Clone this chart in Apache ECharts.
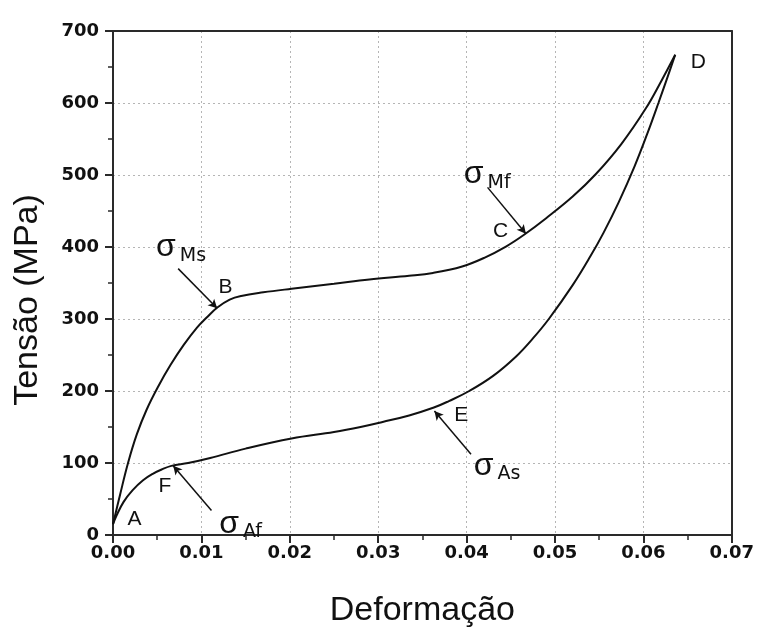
<!DOCTYPE html>
<html>
<head>
<meta charset="utf-8">
<script src="https://cdn.jsdelivr.net/npm/echarts@6/dist/echarts.min.js"></script>
<style>
html,body{margin:0;padding:0;background:#fff;}
#chart{width:757px;height:633px;}
</style>
</head>
<body>
<div id="chart"></div>
<script>
// Loading curve A -> B -> C -> D
const loadX = [0, 0.0008, 0.0017, 0.0027, 0.0038, 0.0051, 0.0065, 0.008, 0.0095, 0.0106, 0.0118, 0.0132, 0.0145, 0.017, 0.0202, 0.025, 0.029, 0.0335, 0.0362, 0.0395, 0.042, 0.0445, 0.0465, 0.049, 0.052, 0.0546, 0.0575, 0.0603, 0.062, 0.0636];
const loadY = [15, 56, 100, 140, 174, 206, 236, 264, 288, 302, 316, 327, 332, 337, 342, 349, 355, 360, 364, 373, 385, 401, 417, 440, 470, 501, 543, 593, 630, 667];
// Unloading curve D -> E -> F -> A
const unloadX = [0.0636, 0.0627, 0.0617, 0.0604, 0.059, 0.0572, 0.0555, 0.054, 0.052, 0.0493, 0.0475, 0.0456, 0.043, 0.0403, 0.038, 0.0363, 0.0335, 0.0305, 0.028, 0.025, 0.0202, 0.015, 0.011, 0.0085, 0.0066, 0.0055, 0.0045, 0.0034, 0.0022, 0.0012, 0.0004, 0];
const unloadY = [667, 635, 600, 556, 512, 462, 420, 387, 347, 300, 273, 248, 221, 200, 186, 177, 166, 157, 150, 143, 134, 120, 107, 100, 96, 91, 85, 76, 62, 46, 27, 15];

// Point letters
const pointNames = ['A', 'B', 'C', 'D', 'E', 'F'];
const pointX = [0.00248, 0.01279, 0.0439, 0.06628, 0.03946, 0.00593];
const pointY = [20.7, 343, 421, 656, 165.7, 67.7];

// Sigma labels (subscripts) and their anchors
const sigmaSubs = ['Ms', 'Mf', 'As', 'Af'];
const sigmaX = [0.00493, 0.03974, 0.04087, 0.01208];
const sigmaY = [400.4, 501.6, 96.6, 16.2];

// Arrows: from label to curve
const arrowFromX = [0.00737, 0.04237, 0.0405, 0.01114];
const arrowFromY = [370, 482.8, 112.2, 34.1];
const arrowToX = [0.01178, 0.04671, 0.03636, 0.00681];
const arrowToY = [314.8, 418.3, 172.2, 96.2];

const loading = loadX.map((x, i) => [x, loadY[i]]);
const unloading = unloadX.map((x, i) => [x, unloadY[i]]);
const pointData = pointNames.map((n, i) => ({ name: n, value: [pointX[i], pointY[i]] }));
const sigmaData = sigmaSubs.map((n, i) => ({ name: n, value: [sigmaX[i], sigmaY[i]] }));
const arrowData = arrowFromX.map((x, i) => [
  { coord: [x, arrowFromY[i]] },
  { coord: [arrowToX[i], arrowToY[i]] }
]);

const ink = '#111';
const frame = '#2a2a2a';
const axisCommon = {
  nameLocation: 'middle',
  nameTextStyle: { fontFamily: 'Liberation Sans', fontSize: 34, color: ink },
  axisLine: { show: true, onZero: false, lineStyle: { color: frame, width: 2 } },
  axisTick: { show: true, inside: false, length: 8, lineStyle: { color: frame, width: 2 } },
  minorTick: { show: true, splitNumber: 2, length: 5, lineStyle: { color: frame, width: 1.5 } },
  splitLine: { show: true, showMaxLine: false, lineStyle: { color: '#b5b5b5', type: [2, 3], width: 1 } },
  axisLabel: { fontFamily: 'DejaVu Sans', fontWeight: 'bold', fontSize: 18, color: ink }
};
const frameAxis = {
  type: 'value',
  axisLine: { show: true, onZero: false, lineStyle: { color: frame, width: 2 } },
  axisTick: { show: false }, axisLabel: { show: false }, splitLine: { show: false }
};

const chart = echarts.init(document.getElementById('chart'));
chart.setOption({
  animation: false,
  backgroundColor: '#fff',
  grid: { left: 113, right: 24, top: 31, bottom: 95 },
  xAxis: [
    Object.assign({}, axisCommon, {
      type: 'value', min: 0, max: 0.07, interval: 0.01,
      name: 'Deformação', nameGap: 59,
      axisLabel: Object.assign({}, axisCommon.axisLabel, { margin: 9, formatter: v => v.toFixed(2) })
    }),
    Object.assign({}, frameAxis, { position: 'top', min: 0, max: 0.07 })
  ],
  yAxis: [
    Object.assign({}, axisCommon, {
      type: 'value', min: 0, max: 700, interval: 100,
      name: 'Tensão (MPa)', nameGap: 68,
      nameTextStyle: Object.assign({}, axisCommon.nameTextStyle, { padding: [0, 34, 0, 0] }),
      axisLabel: Object.assign({}, axisCommon.axisLabel, { margin: 14 })
    }),
    Object.assign({}, frameAxis, { position: 'right', min: 0, max: 700 })
  ],
  series: [
    {
      type: 'line', data: loading, smooth: 0.4, symbol: 'none',
      lineStyle: { color: ink, width: 2 },
      markLine: {
        silent: true, symbol: ['none', 'arrow'], symbolSize: [7, 9],
        label: { show: false },
        lineStyle: { color: ink, width: 1.5, type: 'solid' },
        data: arrowData
      }
    },
    {
      type: 'line', data: unloading, smooth: 0.4, symbol: 'none',
      lineStyle: { color: ink, width: 2 }
    },
    {
      type: 'scatter', data: pointData, symbolSize: 1,
      itemStyle: { color: 'rgba(0,0,0,0)', opacity: 1 },
      label: {
        show: true, position: [0, 0], align: 'center', verticalAlign: 'middle', formatter: '{b}',
        fontFamily: 'Liberation Sans', fontSize: 21, color: ink, textBorderWidth: 0
      }
    },
    {
      type: 'scatter', data: sigmaData, symbolSize: 1,
      itemStyle: { color: 'rgba(0,0,0,0)', opacity: 1 },
      label: {
        show: true, position: [0, 0], align: 'left', verticalAlign: 'middle',
        formatter: p => '{s|σ}{m|' + p.name + '}',
        rich: {
          s: { fontFamily: 'Liberation Sans', fontSize: 32, lineHeight: 30, verticalAlign: 'top', color: ink },
          m: { fontFamily: 'DejaVu Sans', fontSize: 19, lineHeight: 18, padding: [15, 0, 0, 4], verticalAlign: 'top', color: ink }
        }
      }
    }
  ]
});
</script>
</body>
</html>
